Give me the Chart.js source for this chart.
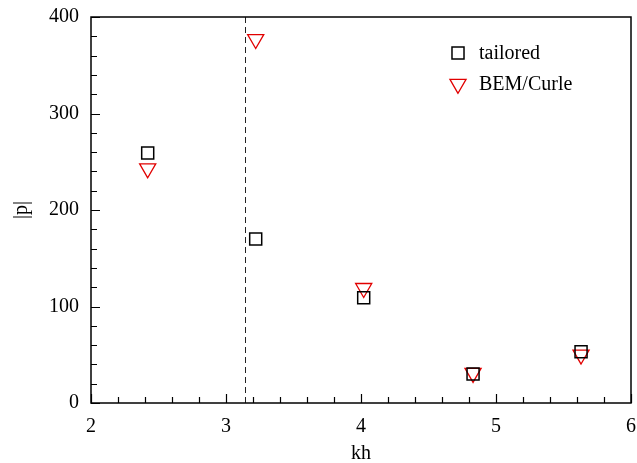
<!DOCTYPE html>
<html>
<head>
<meta charset="utf-8">
<script src="https://cdn.jsdelivr.net/npm/chart.js@4.4.0/dist/chart.umd.min.js"></script>
<style>
  html, body { margin: 0; padding: 0; background: #fff; }
</style>
</head>
<body>
<canvas id="myChart" width="637" height="463"></canvas>
<script>
// values
const kh = [2.42, 3.22, 4.02, 4.83, 5.63];
const tailored = [259, 170, 109, 30, 53];
const bemCurle = [243, 377, 119, 31, 50];
const xTicks = [2, 3, 4, 5, 6];
const yTicks = [0, 100, 200, 300, 400];
const cutoff = Math.PI;   // dashed vertical line

const FONT = "'Liberation Serif', 'Times New Roman', serif";
const RED = 'rgb(225, 0, 0)';

function pts(ys) {
    return kh.map((x, i) => ({ x: x, y: ys[i] }));
}

// box, inward ticks, dashed line and the legend
const framePlugin = {
    id: 'frame',
    beforeDatasetsDraw(chart) {
        const ctx = chart.ctx;
        const a = chart.chartArea;
        const xs = chart.scales.x;
        const px = Math.round(xs.getPixelForValue(cutoff)) + 0.5;
        ctx.save();
        ctx.strokeStyle = '#222';
        ctx.lineWidth = 1;
        ctx.setLineDash([6, 4]);
        ctx.beginPath();
        ctx.moveTo(px, a.bottom);
        ctx.lineTo(px, a.top);
        ctx.stroke();
        ctx.restore();
    },
    afterDraw(chart) {
        const ctx = chart.ctx;
        const a = chart.chartArea;
        const xs = chart.scales.x;
        const ys = chart.scales.y;
        ctx.save();
        ctx.strokeStyle = '#000';
        ctx.lineWidth = 1.5;
        ctx.strokeRect(a.left, a.top, a.right - a.left, a.bottom - a.top);

        ctx.lineWidth = 1.2;
        ctx.beginPath();
        // x ticks, every 0.2, major every 1
        for (let k = 0; k <= 20; k++) {
            const v = xTicks[0] + k * 0.2;
            const p = Math.round(xs.getPixelForValue(v)) + 0.5;
            const len = (k % 5 === 0) ? 9 : 6;
            ctx.moveTo(p, a.bottom);
            ctx.lineTo(p, a.bottom - len);
        }
        // y ticks, every 20, major every 100
        for (let k = 0; k <= 20; k++) {
            const v = yTicks[0] + k * 20;
            const p = Math.round(ys.getPixelForValue(v)) + 0.5;
            const len = (k % 5 === 0) ? 9 : 6;
            ctx.moveTo(a.left, p);
            ctx.lineTo(a.left + len, p);
        }
        ctx.stroke();

        // legend
        const items = chart.data.datasets;
        const lx = 458, ly = [53, 84];
        ctx.font = '20px ' + FONT;
        ctx.textBaseline = 'middle';
        items.forEach((ds, i) => {
            ctx.strokeStyle = ds.borderColor;
            ctx.fillStyle = 'rgba(0,0,0,0)';
            ctx.lineWidth = ds.borderWidth;
            Chart.helpers.drawPoint(ctx, {
                pointStyle: ds.pointStyle,
                radius: ds.pointRadius,
                rotation: ds.rotation || 0,
                borderWidth: ds.borderWidth
            }, lx, ly[i]);
            ctx.fillStyle = '#000';
            ctx.fillText(ds.label, 479, ly[i] + 1);
        });
        ctx.restore();
    }
};

const data1 = {
    datasets: [{
        label: 'tailored',
        data: pts(tailored),
        pointStyle: 'rect',
        pointRadius: 8.5,
        borderColor: '#000',
        backgroundColor: 'rgba(0,0,0,0)',
        borderWidth: 1.5,
        showLine: false
    }, {
        label: 'BEM/Curle',
        data: pts(bemCurle),
        pointStyle: 'triangle',
        rotation: 180,
        pointRadius: 9.3,
        borderColor: RED,
        backgroundColor: 'rgba(0,0,0,0)',
        borderWidth: 1.3,
        showLine: false
    }]
};

function noPad(s) {
    s.paddingLeft = 0; s.paddingRight = 0;
    s.paddingTop = 0; s.paddingBottom = 0;
}

const config = {
    type: 'scatter',
    data: data1,
    options: {
        responsive: false,
        animation: false,
        layout: { autoPadding: false, padding: { top: 17, right: 6, left: 0, bottom: 0 } },
        plugins: {
            legend: { display: false },
            tooltip: { enabled: false }
        },
        scales: {
            x: {
                type: 'linear',
                min: 2, max: 6,
                afterBuildTicks: s => { s.ticks = xTicks.map(v => ({ value: v })); },
                afterFit: s => { s.height = 60; noPad(s); },
                grid: { display: false, drawTicks: false },
                border: { display: false },
                ticks: { color: '#000', padding: 12, font: { family: FONT, size: 20 } },
                title: { display: true, text: 'kh', color: '#000', padding: { top: 0, bottom: -3 }, font: { family: FONT, size: 20 } }
            },
            y: {
                type: 'linear',
                min: 0, max: 400,
                afterBuildTicks: s => { s.ticks = yTicks.map(v => ({ value: v })); },
                afterFit: s => { s.width = 91; noPad(s); },
                grid: { display: false, drawTicks: false },
                border: { display: false },
                ticks: { color: '#000', padding: 12, font: { family: FONT, size: 20 } },
                title: { display: true, text: '|p|', color: '#000', padding: { top: 10, bottom: 0 }, font: { family: FONT, size: 20 } }
            }
        }
    },
    plugins: [framePlugin]
};

const myChart = new Chart(document.getElementById('myChart'), config);
</script>
</body>
</html>
